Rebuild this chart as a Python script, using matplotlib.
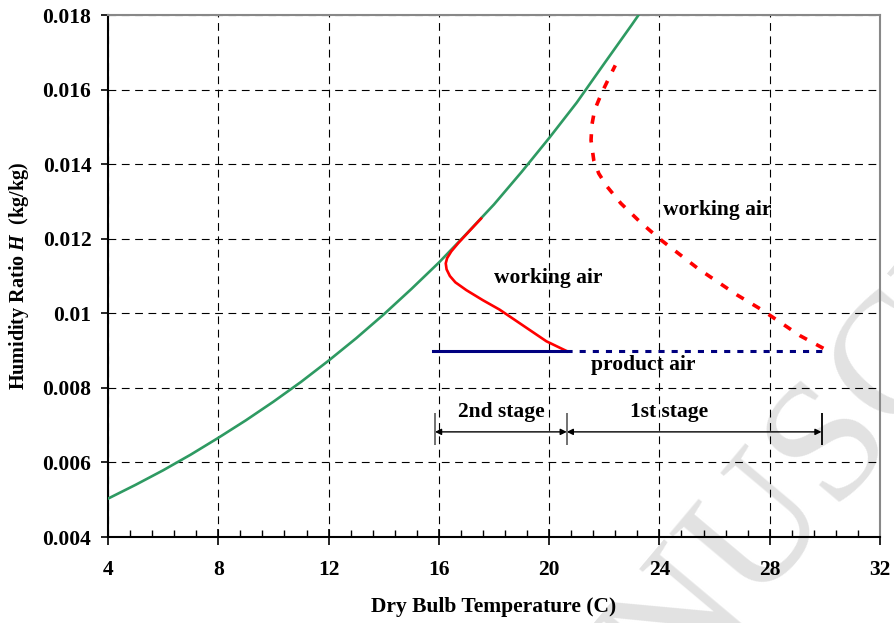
import matplotlib
matplotlib.use('Agg')
import matplotlib.pyplot as plt
from matplotlib.ticker import MultipleLocator, FixedLocator

plt.rcParams['font.family'] = ['Liberation Serif', 'DejaVu Serif']
plt.rcParams['font.weight'] = 'bold'
plt.rcParams['axes.labelweight'] = 'bold'
plt.rcParams['mathtext.fontset'] = 'custom'
plt.rcParams['mathtext.it'] = 'Liberation Serif:italic:bold'
plt.rcParams['mathtext.rm'] = 'Liberation Serif:bold'

# saturation curve
sat_t = [4, 5, 6, 7, 8, 9, 10, 11, 12, 13, 14, 15, 16, 17, 18, 19, 20, 21, 22, 23, 23.3]
sat_h = [0.00503, 0.00540, 0.00579, 0.00621, 0.00666, 0.00713, 0.00763, 0.00816,
         0.00873, 0.00933, 0.00997, 0.01065, 0.01136, 0.01213, 0.01292, 0.01379,
         0.01470, 0.01565, 0.01670, 0.01774, 0.01806]

# working air, 2nd stage (solid red)
wa2_t = [20.6, 19.9, 19.4, 18.8, 18.2, 17.6, 17.0, 16.6, 16.4, 16.28, 16.25, 16.3, 16.45, 16.7, 17.1, 17.53]
wa2_h = [0.0090, 0.00925, 0.0095, 0.0098, 0.0101, 0.01035, 0.01062, 0.01083, 0.0110,
         0.01118, 0.01134, 0.01148, 0.01166, 0.01188, 0.01220, 0.01254]

# working air, 1st stage (dashed red)
wa1_t = [29.95, 29.1, 27.7, 26.8, 25.4, 24.0, 23.3, 22.6, 22.1, 21.8, 21.62, 21.52, 21.55,
         21.65, 21.9, 22.15, 22.4]
wa1_h = [0.00906, 0.0094, 0.0101, 0.0105, 0.0112, 0.0120, 0.01245, 0.01295, 0.0134,
         0.01375, 0.0141, 0.01464, 0.01505, 0.01545, 0.0159, 0.01628, 0.01665]

# product air
pa2_t = [15.8, 20.6]
pa2_h = [0.0090, 0.0090]
pa1_t = [20.6, 29.95]
pa1_h = [0.0090, 0.0090]

# stage boundaries
stage_x = [15.86, 20.64, 29.88]

ytick_vals = [0.004, 0.006, 0.008, 0.010, 0.012, 0.014, 0.016, 0.018]
ytick_labels = ['0.004', '0.006', '0.008', '0.01', '0.012', '0.014', '0.016', '0.018']

fig = plt.figure(figsize=(8.95, 6.23), dpi=100)
ax = fig.add_axes([0.1207, 0.138, 0.8625, 0.8379])
ax.patch.set_alpha(0)

# watermark
fig.text(0.55, -0.47, 'MANUSCRIPT', rotation=50, rotation_mode='anchor',
         ha='left', va='baseline', fontsize=125, fontweight='normal',
         color='#e2e2e2', zorder=-1)

ax.plot(sat_t, sat_h, color='#2e9a62', lw=1.9, zorder=3)
ax.plot(wa2_t, wa2_h, color='#ff0000', lw=1.9, zorder=4)
ax.plot(wa1_t, wa1_h, color='#ff0000', lw=2.6, ls=(0, (2.3, 2.9)), zorder=4)
ax.plot(pa2_t, pa2_h, color='#000080', lw=2.2, zorder=4)
ax.plot(pa1_t, pa1_h, color='#000080', lw=2.2, ls=(0, (2.0, 2.3)), zorder=4)

ax.set_xlim(4, 32)
ax.set_ylim(0.004, 0.018)
ax.xaxis.set_major_locator(MultipleLocator(4))
ax.xaxis.set_minor_locator(MultipleLocator(0.8))
ax.yaxis.set_major_locator(FixedLocator(ytick_vals))
ax.set_yticklabels(ytick_labels)

ax.grid(True, which='major', color='black', lw=0.8, ls=(0, (7, 5)))
ax.tick_params(axis='x', which='major', direction='inout', length=11, width=1.2,
               pad=11, labelsize=15.5)
ax.tick_params(axis='x', which='minor', direction='in', length=5, width=1)
ax.tick_params(axis='y', which='major', direction='out', length=5, width=1.2,
               pad=7, labelsize=15.5)
for s in ['left', 'bottom']:
    ax.spines[s].set_linewidth(1.5)
    ax.spines[s].set_color('black')
for s in ['top', 'right']:
    ax.spines[s].set_linewidth(1.5)
    ax.spines[s].set_color('#888888')

ax.set_xlabel('Dry Bulb Temperature (C)', fontsize=15.5, labelpad=12)
ax.set_ylabel('Humidity Ratio $H$  (kg/kg)', fontsize=14.5, labelpad=8)

# stage dimension lines
ya = 0.00682
ax.annotate('', xy=(stage_x[0], ya), xytext=(stage_x[1], ya),
            arrowprops=dict(arrowstyle='<|-|>', color='black', lw=1, mutation_scale=9,
                            shrinkA=0, shrinkB=0))
ax.annotate('', xy=(stage_x[1], ya), xytext=(stage_x[2], ya),
            arrowprops=dict(arrowstyle='<|-|>', color='black', lw=1, mutation_scale=9,
                            shrinkA=0, shrinkB=0))
ax.vlines(stage_x[:2], 0.00647, 0.00732, color='#666666', lw=1.3, zorder=5)
ax.vlines(stage_x[2:], 0.00647, 0.00732, color='black', lw=1.3, zorder=5)

ax.text(18.25, 0.00735, '2nd stage', ha='center', va='center', fontsize=15.5)
ax.text(24.35, 0.00735, '1st stage', ha='center', va='center', fontsize=15.5)
ax.text(19.96, 0.01094, 'working air', ha='center', va='center', fontsize=15.5)
ax.text(26.1, 0.01277, 'working air', ha='center', va='center', fontsize=15.5)
ax.text(23.4, 0.00861, 'product air', ha='center', va='center', fontsize=15.5)

fig.savefig('out.png', dpi=100)
